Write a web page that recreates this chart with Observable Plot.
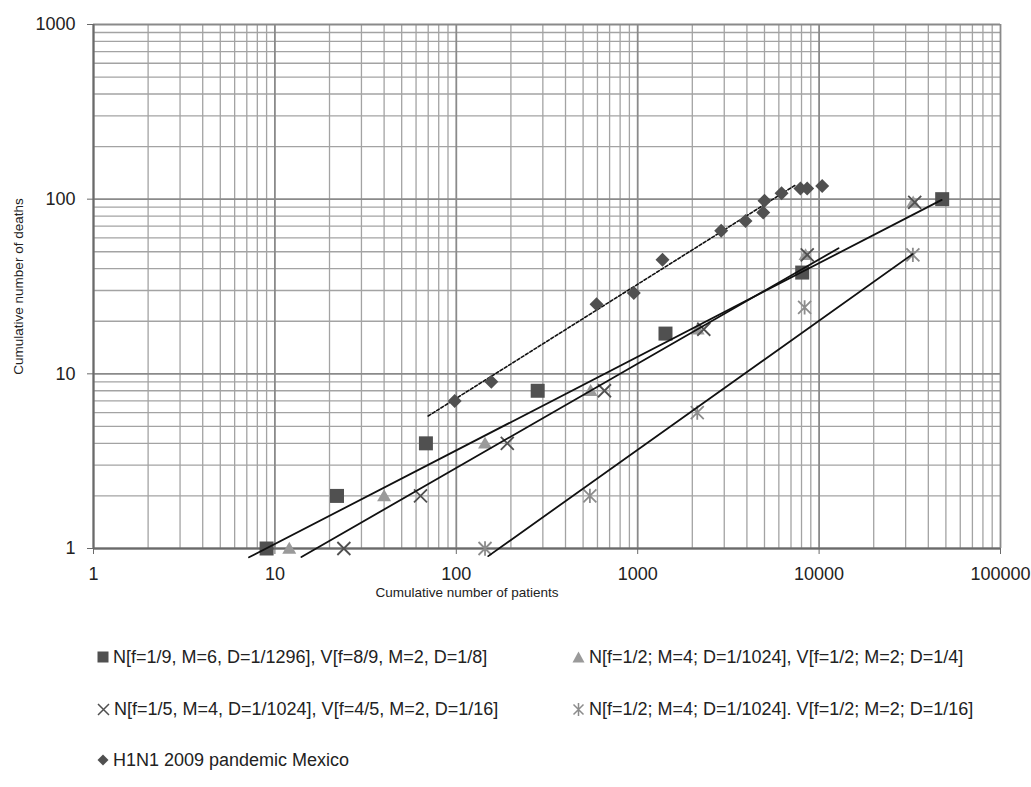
<!DOCTYPE html>
<html><head><meta charset="utf-8">
<script src="https://cdn.jsdelivr.net/npm/d3@7"></script>
<script src="https://cdn.jsdelivr.net/npm/@observablehq/plot@0.6"></script>
<style>
body{margin:0;background:#fff;font-family:"Liberation Sans",Arial,sans-serif;}
#wrap{position:relative;width:1031px;height:787px;overflow:hidden;}
#chart{position:absolute;left:0;top:0;}
.leg{position:absolute;height:22px;font-size:18px;line-height:22px;color:#222;white-space:nowrap;display:flex;align-items:center;}
.leg svg{margin-right:4px;flex:none}
</style></head><body>
<div id="wrap"><div id="chart"></div><div id="legend"></div></div>
<script>
// ---- data ----
const xTicks = [1, 10, 100, 1000, 10000, 100000];
const yTicks = [1, 10, 100, 1000];

const squareX = [9, 22, 68, 281, 1423, 8070, 47700];
const squareY = [1, 2, 4, 8, 17, 38, 100];

const triangleX = [12, 40, 144, 550, 2140, 8420, 33000];
const triangleY = [1, 2, 4, 8, 18, 48, 96];

const timesX = [24, 63.5, 191, 656, 2314, 8600, 33660];
const timesY = [1, 2, 4, 8, 18, 48, 96];

const starX = [144, 545, 2130, 8320, 32880];
const starY = [1, 2, 6, 24, 48];

const h1n1X = [98, 156, 593, 952, 1370, 2886, 3930, 4920, 5000, 6210, 7890, 8600, 10400];
const h1n1Y = [7, 9, 25, 29, 45, 66, 75, 84, 98, 108, 115, 115, 119];

const seriesNames = [
  "N[f=1/9, M=6, D=1/1296], V[f=8/9, M=2, D=1/8]",
  "N[f=1/2; M=4; D=1/1024], V[f=1/2; M=2; D=1/4]",
  "N[f=1/5, M=4, D=1/1024], V[f=4/5, M=2, D=1/16]",
  "N[f=1/2; M=4; D=1/1024]. V[f=1/2; M=2; D=1/16]",
  "H1N1 2009 pandemic Mexico"
];

// power trend lines y = c * x^b
const trendIds   = ["square", "triangle", "star", "h1n1"];
const trendCoef  = [0.309, 0.185, 0.0223, 0.358];
const trendExp   = [0.536, 0.597, 0.739, 0.653];
const trendFrom  = [7.2, 14, 150, 70];
const trendTo    = [47400, 12800, 32800, 7400];

// ---- build ----
const zip = (xs, ys) => xs.map((x, i) => ({x, y: ys[i]}));
const minorOf = ticks => ticks.slice(0, -1).flatMap(d => [2,3,4,5,6,7,8,9].map(k => d * k));
const xMinor = minorOf(xTicks), yMinor = minorOf(yTicks);

const trendPts = trendIds.flatMap((id, i) => [trendFrom[i], trendTo[i]].map(x => ({id, x, y: trendCoef[i] * Math.pow(x, trendExp[i])})));
const solidTrend = trendPts.filter(d => d.id !== "h1n1");
const dashTrend = trendPts.filter(d => d.id === "h1n1");

const R = s => Math.sqrt(s / Math.PI);
const symSquare = {draw(c, s){ const r = R(s); c.rect(-r, -r, 2*r, 2*r); }};
const symTri = {draw(c, s){ const r = R(s); c.moveTo(0, -r*0.95); c.lineTo(r, r*0.75); c.lineTo(-r, r*0.75); c.closePath(); }};
const symTimes = {draw(c, s){ const r = R(s); c.moveTo(-r, -r); c.lineTo(r, r); c.moveTo(r, -r); c.lineTo(-r, r); }};
const symStar = {draw(c, s){ const r = R(s); c.moveTo(-r, -r); c.lineTo(r, r); c.moveTo(r, -r); c.lineTo(-r, r); c.moveTo(0, -r*1.1); c.lineTo(0, r*1.1); }};
const symDiamond = {draw(c, s){ const r = R(s); c.moveTo(0, -r); c.lineTo(r, 0); c.lineTo(0, r); c.lineTo(-r, 0); c.closePath(); }};

const dark = "#505050", light = "#9a9a9a", starCol = "#8c8c8c";

const chart = Plot.plot({
  width: 1031, height: 620,
  marginLeft: 93, marginRight: 31, marginTop: 24, marginBottom: 72,
  style: {fontFamily: "'Liberation Sans', Arial, sans-serif", background: "#fff", color: "#222"},
  x: {type: "log", domain: [1, 100000]},
  y: {type: "log", domain: [1, 1000]},
  marks: [
    Plot.ruleX(xMinor, {stroke: "#a3a3a3", strokeWidth: 1.3}),
    Plot.ruleY(yMinor, {stroke: "#a3a3a3", strokeWidth: 1.3}),
    Plot.ruleX(xTicks, {stroke: "#8a8a8a", strokeWidth: 1.8}),
    Plot.ruleY(yTicks, {stroke: "#8a8a8a", strokeWidth: 1.8}),
    Plot.ruleX([1], {stroke: "#6a6a6a", strokeWidth: 2}),
    Plot.ruleY([1], {stroke: "#6a6a6a", strokeWidth: 2}),
    Plot.axisX(xTicks, {tickSize: 6, tickPadding: 13, fontSize: 18, stroke: "#6a6a6a", tickFormat: d => String(d), label: null}),
    Plot.axisY(yTicks, {tickSize: 6, tickPadding: 12, fontSize: 18, stroke: "#6a6a6a", tickFormat: d => String(d), label: null}),
    Plot.text(["Cumulative number of patients"], {frameAnchor: "bottom", textAnchor: "middle", lineAnchor: "middle", dx: -80, dy: 44, fontSize: 13.5, fill: "#222"}),
    Plot.text(["Cumulative number of deaths"], {frameAnchor: "left", textAnchor: "middle", lineAnchor: "middle", rotate: -90, dx: -75, fontSize: 13.5, fill: "#222"}),
    Plot.line(dashTrend, {x: "x", y: "y", z: "id", stroke: "#111", strokeWidth: 1.6, strokeDasharray: "3,2"}),
    Plot.dot(zip(squareX, squareY), {x: "x", y: "y", symbol: symSquare, r: 7, fill: dark, stroke: "none"}),
    Plot.dot(zip(triangleX, triangleY), {x: "x", y: "y", symbol: symTri, r: 7, fill: light, stroke: "none"}),
    Plot.dot(zip(timesX, timesY), {x: "x", y: "y", symbol: symTimes, r: 6.5, fill: "none", stroke: dark, strokeWidth: 1.8}),
    Plot.dot(zip(starX, starY), {x: "x", y: "y", symbol: symStar, r: 6.5, fill: "none", stroke: starCol, strokeWidth: 1.8}),
    Plot.dot(zip(h1n1X, h1n1Y), {x: "x", y: "y", symbol: symDiamond, r: 7, fill: dark, stroke: "none"}),
    Plot.line(solidTrend, {x: "x", y: "y", z: "id", stroke: "#111", strokeWidth: 1.8})
  ]
});
document.getElementById("chart").appendChild(chart);

// ---- legend ----
const legendSyms = [
  `<svg width="12" height="12"><rect x="0.5" y="0.5" width="11" height="11" fill="${dark}"/></svg>`,
  `<svg width="13" height="12"><path d="M6.5 0.5 L12.5 11.5 L0.5 11.5 Z" fill="${light}"/></svg>`,
  `<svg width="13" height="13"><path d="M1 1 L12 12 M12 1 L1 12" stroke="${dark}" stroke-width="1.5"/></svg>`,
  `<svg width="13" height="13"><path d="M1.5 1.5 L11.5 11.5 M11.5 1.5 L1.5 11.5 M6.5 0 L6.5 13" stroke="${starCol}" stroke-width="1.5"/></svg>`,
  `<svg width="12" height="12"><path d="M6 0.5 L11.5 6 L6 11.5 L0.5 6 Z" fill="${dark}"/></svg>`
];
const legLeft = [97, 572, 97, 572, 97];
const legTop = [657, 657, 709, 709, 760];
const legEl = document.getElementById("legend");
seriesNames.forEach((name, i) => {
  const d = document.createElement("div");
  d.className = "leg";
  d.style.left = legLeft[i] + "px";
  d.style.top = (legTop[i] - 11) + "px";
  d.innerHTML = legendSyms[i] + "<span></span>";
  d.querySelector("span").textContent = name;
  legEl.appendChild(d);
});
</script>
</body></html>
